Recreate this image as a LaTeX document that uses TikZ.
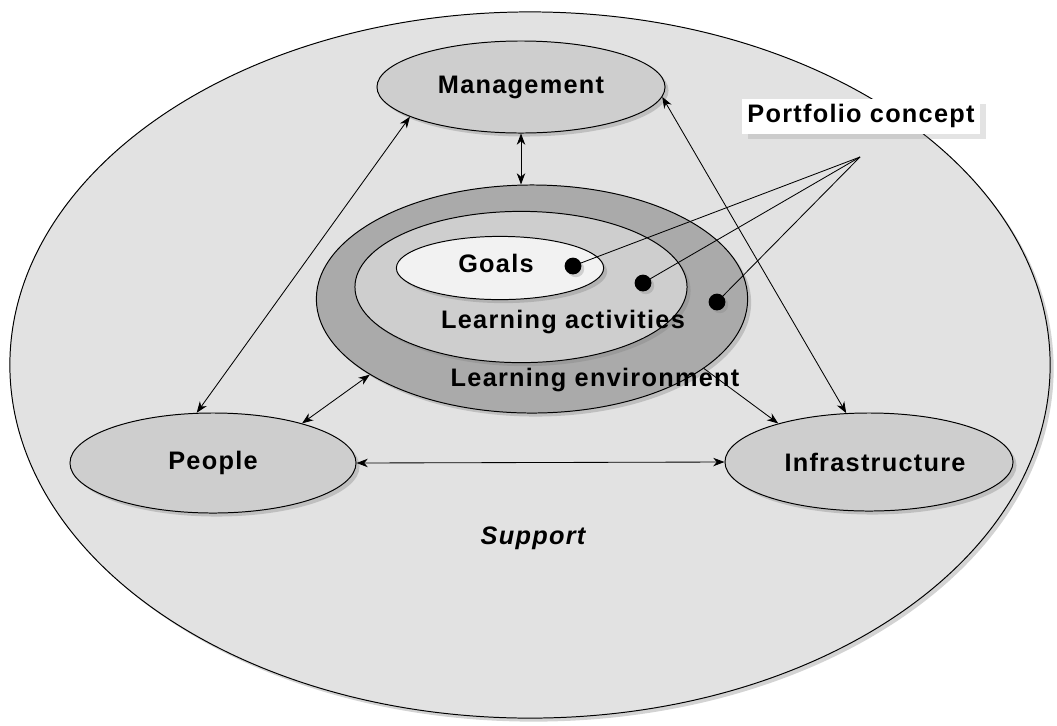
\documentclass[tikz,border=0pt]{standalone}
\usepackage{fontspec}
\setmainfont{Liberation Sans}
\newfontfamily\lblfont[LetterSpace=5.0]{Liberation Sans}
\usetikzlibrary{arrows.meta,shapes.geometric,shadows,positioning}
\definecolor{supportgray}{RGB}{226,226,226}
\definecolor{partgray}{RGB}{206,206,206}
\definecolor{envgray}{RGB}{170,170,170}
\definecolor{goalgray}{RGB}{242,242,242}
\tikzset{
  bubble/.style={ellipse, draw, line width=0.7pt, inner sep=0pt,
    drop shadow={shadow xshift=2.5pt, shadow yshift=-2.5pt, opacity=0.35}},
  lbl/.style={font=\lblfont\bfseries\fontsize{18}{21}\selectfont},
  blob/.style={circle, fill=black, inner sep=0pt, minimum size=0.42cm,
    drop shadow={shadow xshift=2pt, shadow yshift=-2pt, opacity=0.3}},
  link/.style={<->, line width=0.6pt},
}
\begin{document}
\begin{tikzpicture}[
                    >={Stealth[length=8pt,width=6pt,inset=2.5pt]},
                x=0.025cm, y=-0.025cm]

                \useasboundingbox (0,0) rectangle (1057,725);

                % outer support area
                \node[bubble, fill=supportgray, minimum width=26cm, minimum height=17.65cm] (support) at (530,365) {};
                \node[lbl, font=\lblfont\bfseries\itshape\fontsize{18}{21}\selectfont] (supporttxt) at (533,538) {Support};

                % the three parts
                \node[bubble, lbl, fill=partgray, minimum width=7.2cm, minimum height=2.3cm] (mgmt) at (521,87) {Management};
                \node[bubble, lbl, fill=partgray, minimum width=7.15cm, minimum height=2.5cm] (people) at (213,463) {People};
                \node[bubble, lbl, fill=partgray, minimum width=7.2cm, minimum height=2.45cm] (infra) at (869,462) {\hspace{0.3cm}Infrastructure};

                % learning core
                \node[bubble, fill=envgray, minimum width=10.78cm, minimum height=5.7cm] (env) at (532,299) {};
                \node[bubble, fill=partgray, minimum width=8.3cm, minimum height=3.78cm] (act) at (521,287) {};
                \node[bubble, fill=goalgray, minimum width=5.18cm, minimum height=1.58cm] (goals) at (500,268) {};

                % connectors
                \draw[link] (mgmt.south) -- (mgmt.south |- env.north);
                \draw[link] (mgmt.195) -- (people.108);
                \draw[link] (mgmt.-4) -- (infra.115);
                \draw[link] (people.24) -- (env.205);
                \draw[->, line width=0.6pt] (env.-22) -- (infra.157);
                \draw[link] (people.east) -- (infra.west);

                % labels of the core
                \node[lbl] (goalstxt) at (496,263) {Goals};
                \node[lbl] (acttxt) at (563,322) {Learning activities};
                \node[lbl] (envtxt) at (595,380) {Learning environment};

                % portfolio concept
                \node[lbl, fill=white, minimum width=5.95cm, minimum height=0.875cm,
                      drop shadow={shadow xshift=4pt, shadow yshift=-4pt, opacity=0.22}] (portfolio) at (861,116) {Portfolio concept};
                \coordinate (hub) at (860,157);
                \coordinate (p1) at (573,266);
                \coordinate (p2) at (643,283);
                \coordinate (p3) at (717,302);
                \foreach \p in {p1,p2,p3}
                    \draw[line width=0.6pt] (hub) -- (\p);
                \node[blob] (dot1) at (p1) {};
                \node[blob] (dot2) at (p2) {};
                \node[blob] (dot3) at (p3) {};

            \end{tikzpicture}
\end{document}
